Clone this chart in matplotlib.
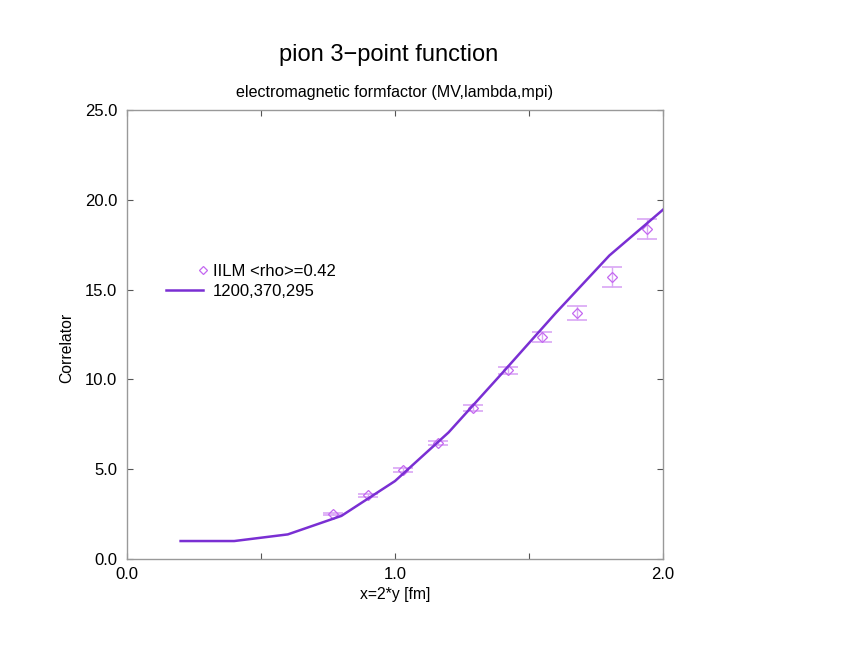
import matplotlib
matplotlib.use("Agg")
import matplotlib.pyplot as plt
from matplotlib.ticker import MultipleLocator, FormatStrFormatter, NullLocator
from matplotlib.lines import Line2D
from matplotlib.legend_handler import HandlerBase

plt.rcParams['font.family'] = ['Liberation Sans', 'DejaVu Sans']

# data points (IILM)
x_pts = [0.77, 0.90, 1.03, 1.16, 1.29, 1.42, 1.55, 1.68, 1.81, 1.94]
y_pts = [2.50, 3.55, 4.95, 6.45, 8.40, 10.50, 12.35, 13.70, 15.70, 18.37]
y_err = [0.06, 0.09, 0.11, 0.12, 0.16, 0.18, 0.28, 0.37, 0.54, 0.57]

# model curve
x_line = [0.2, 0.4, 0.6, 0.8, 1.0, 1.2, 1.4, 1.6, 1.8, 2.0]
y_line = [1.0, 1.0, 1.37, 2.4, 4.34, 7.05, 10.35, 13.7, 16.9, 19.45]

MARK = '#C468F0'
ERR = '#D9A6F5'
LINE = '#7A2FD3'

fig = plt.figure(figsize=(8.46, 6.54), dpi=100)
ax = fig.add_axes([127/846, 95/654, 536/846, 449/654])

ax.errorbar(x_pts, y_pts, yerr=y_err, fmt='none', ecolor=ERR, elinewidth=1.0,
            capsize=7, capthick=1.2, zorder=2)
pts, = ax.plot(x_pts, y_pts, 'D', mfc='none', mec=MARK, ms=5, mew=0.9, zorder=2.5,
               label='IILM <rho>=0.42')
ln, = ax.plot(x_line, y_line, color=LINE, lw=1.8, label='1200,370,295', zorder=3)

ax.set_xlim(0, 2.0)
ax.set_ylim(0, 25)
ax.xaxis.set_major_locator(MultipleLocator(1.0))
ax.xaxis.set_minor_locator(MultipleLocator(0.5))
ax.yaxis.set_major_locator(MultipleLocator(5.0))
ax.yaxis.set_minor_locator(NullLocator())
ax.xaxis.set_major_formatter(FormatStrFormatter('%.1f'))
ax.yaxis.set_major_formatter(FormatStrFormatter('%.1f'))
ax.tick_params(which='both', direction='in', top=True, right=True, colors='#555555',
               labelcolor='black', labelsize=12, length=4.5, width=0.8)
ax.tick_params(axis='y', pad=7)
ax.tick_params(axis='x', pad=6)
for s in ax.spines.values():
    s.set_color('#999999')
    s.set_linewidth(1.0)

ax.set_xlabel('x=2*y [fm]', fontsize=11.3, labelpad=3)
fig.text(67/846, 1 - 348/654, 'Correlator', fontsize=11.3, rotation=90,
         ha='center', va='center')

fig.text(389/846, 1 - 61/654, 'pion 3\u2212point function', fontsize=17,
         ha='center', va='baseline')
fig.text(395/846, 1 - 97/654, 'electromagnetic formfactor (MV,lambda,mpi)', fontsize=11.6,
         ha='center', va='baseline')


class RightMarker(HandlerBase):
    def create_artists(self, legend, orig_handle, xdescent, ydescent, width, height,
                       fontsize, trans):
        m = Line2D([width - xdescent], [height / 2 - ydescent], marker='D', ls='none',
                   mfc='none', mec=MARK, ms=4.5, mew=0.9, transform=trans)
        return [m]


leg = ax.legend([pts, ln], ['IILM <rho>=0.42', '1200,370,295'],
                handler_map={pts: RightMarker()},
                loc='upper left', bbox_to_anchor=((166 - 127) / 536, (559 - 264) / 449),
                frameon=False, fontsize=12, handlelength=2.2, handletextpad=0.6,
                labelspacing=0.28, borderaxespad=0, borderpad=0)

fig.savefig('out.png', dpi=100)
